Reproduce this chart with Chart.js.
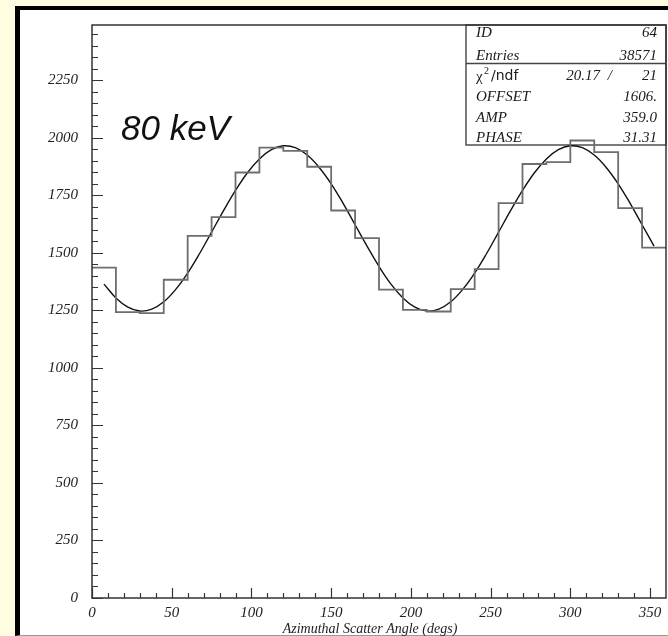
<!DOCTYPE html>
<html>
<head>
<meta charset="utf-8">
<script src="https://cdn.jsdelivr.net/npm/chart.js@4.4.1/dist/chart.umd.min.js"></script>
<style>
    html, body { margin: 0; padding: 0; }
    body { width: 668px; height: 636px; background: #fffde1; position: relative; overflow: hidden; }
    #panel {
        position: absolute; left: 15px; top: 6px; width: 700px; height: 625px;
        background: #fff; border-left: 5px solid #000; border-top: 4px solid #000; border-bottom: 1px solid #999;
    }
    #chart { position: absolute; left: 0; top: 0; }
</style>
</head>
<body>
<div id="panel"></div>
<canvas id="chart" width="668" height="636"></canvas>
<script>
// histogram: 24 bins of 15 degrees
const binEdges = [0, 15, 30, 45, 60, 75, 90, 105, 120, 135, 150, 165, 180,
    195, 210, 225, 240, 255, 270, 285, 300, 315, 330, 345, 360];
const binCounts = [1436, 1242, 1238, 1383, 1574, 1655, 1849, 1957, 1943, 1874, 1684, 1564,
    1340, 1252, 1245, 1342, 1429, 1716, 1886, 1894, 1988, 1938, 1694, 1523];

// fitted curve, read every 7.5 degrees
const fitAngles = [7.5, 15, 22.5, 30, 37.5, 45, 52.5, 60, 67.5, 75, 82.5, 90, 97.5, 105, 112.5, 120,
    127.5, 135, 142.5, 150, 157.5, 165, 172.5, 180, 187.5, 195, 202.5, 210, 217.5, 225, 232.5, 240,
    247.5, 255, 262.5, 270, 277.5, 285, 292.5, 300, 307.5, 315, 322.5, 330, 337.5, 345, 352.5];
const fitValues = [1364, 1304, 1264, 1247, 1255, 1287, 1341, 1412, 1497, 1590, 1683, 1771, 1848, 1908, 1948, 1965,
    1957, 1925, 1871, 1800, 1715, 1622, 1529, 1441, 1364, 1304, 1264, 1247, 1255, 1287, 1341, 1412,
    1497, 1590, 1683, 1771, 1848, 1908, 1948, 1965, 1957, 1925, 1871, 1800, 1715, 1622, 1529];

const xTickValues = [0, 50, 100, 150, 200, 250, 300, 350];
const yTickValues = [0, 250, 500, 750, 1000, 1250, 1500, 1750, 2000, 2250];

const statLabels = ['ID', 'Entries', 'χ2/ndf', 'OFFSET', 'AMP', 'PHASE'];
const statValues = ['64', '38571', '21', '1606.', '359.0', '31.31'];
const chiValue = '20.17';

const energyLabel = '80 keV';
const xTitle = 'Azimuthal Scatter Angle (degs)';

const SERIF = '"Liberation Serif", "Times New Roman", serif';
const SANS = '"Liberation Sans", Arial, sans-serif';

const statsBox = {
    id: 'statsBox',
    beforeDatasetsDraw(chart) {
        const { ctx, chartArea: a } = chart;
        const left = 466, top = a.top, right = a.right, bottom = 145;
        const rowY = [33, 56, 76, 97, 118, 138];
        ctx.save();
        ctx.strokeStyle = '#444';
        ctx.lineWidth = 1.4;
        ctx.strokeRect(left, top, right - left, bottom - top);
        ctx.beginPath();
        ctx.moveTo(left, 63.5);
        ctx.lineTo(right, 63.5);
        ctx.stroke();

        ctx.fillStyle = '#1a1a1a';
        ctx.textBaseline = 'middle';
        statLabels.forEach((lab, i) => {
            ctx.textAlign = 'left';
            if (i === 2) {
                ctx.font = `15px ${SERIF}`;
                ctx.fillText('χ', 476, rowY[i] + 1);
                ctx.font = `10px ${SERIF}`;
                ctx.fillText('2', 484, rowY[i] - 5);
                ctx.font = `14px "DejaVu Sans", sans-serif`;
                ctx.fillText('/ndf', 491, rowY[i]);
                ctx.font = `italic 15px ${SERIF}`;
                ctx.textAlign = 'right';
                ctx.fillText(chiValue, 600, rowY[i]);
                ctx.fillText('/', 612, rowY[i]);
            } else {
                ctx.font = `italic 15px ${SERIF}`;
                ctx.fillText(lab, 476, rowY[i]);
            }
            ctx.font = `italic 15px ${SERIF}`;
            ctx.textAlign = 'right';
            ctx.fillText(statValues[i], 657, rowY[i]);
        });
        ctx.restore();
    }
};

const rootFrame = {
    id: 'rootFrame',
    afterDatasetsDraw(chart) {
        const { ctx, chartArea: a, scales: { x, y } } = chart;
        ctx.save();
        ctx.strokeStyle = '#333';
        ctx.lineWidth = 1.5;
        ctx.strokeRect(a.left, a.top, a.right - a.left, a.bottom - a.top);

        // ROOT style ticks, pointing into the frame
        ctx.lineWidth = 1.2;
        ctx.beginPath();
        for (let v = 0; v <= y.max; v += 50) {
            const py = Math.round(y.getPixelForValue(v)) + 0.5;
            ctx.moveTo(a.left, py);
            ctx.lineTo(a.left + (v % 250 === 0 ? 11 : 6), py);
        }
        for (let v = 0; v <= 350; v += 10) {
            const px = Math.round(x.getPixelForValue(v)) + 0.5;
            ctx.moveTo(px, a.bottom);
            ctx.lineTo(px, a.bottom - (v % 50 === 0 ? 10 : 5));
        }
        ctx.stroke();

        ctx.fillStyle = '#111';
        ctx.textAlign = 'left';
        ctx.textBaseline = 'alphabetic';
        ctx.font = `italic 35px ${SANS}`;
        ctx.fillText(energyLabel, 121, 140);

        ctx.fillStyle = '#222';
        ctx.textAlign = 'center';
        ctx.textBaseline = 'middle';
        ctx.font = `italic 14px ${SERIF}`;
        ctx.fillText(xTitle, 370, 629);
        ctx.restore();
    }
};

const tickFont = { family: SERIF, style: 'italic', size: 15 };

new Chart(document.getElementById('chart'), {
    type: 'line',
    data: {
        datasets: [
            {
                label: 'histogram',
                data: binEdges.map((e, i) => ({ x: e, y: binCounts[Math.min(i, binCounts.length - 1)] })),
                stepped: 'before',
                borderColor: '#6e6e6e',
                borderWidth: 1.8,
                pointRadius: 0,
                fill: false,
            },
            {
                label: 'fit',
                data: fitAngles.map((a, i) => ({ x: a, y: fitValues[i] })),
                borderColor: '#111',
                borderWidth: 1.4,
                pointRadius: 0,
                tension: 0.4,
                fill: false,
            },
        ],
    },
    options: {
        responsive: false,
        animation: false,
        devicePixelRatio: 1,
        layout: { padding: { top: 25, right: 2, left: 0, bottom: 0 } },
        plugins: { legend: { display: false }, tooltip: { enabled: false } },
        scales: {
            x: {
                type: 'linear',
                position: 'bottom',
                min: 0,
                max: 360,
                grid: { display: false, drawTicks: false },
                border: { display: false },
                ticks: {
                    autoSkip: false, maxRotation: 0, padding: 6, font: tickFont, color: '#222',
                    callback: v => String(v),
                },
                afterBuildTicks(s) { s.ticks = xTickValues.map(v => ({ value: v })); },
                afterFit(s) { s.height = 38; },
            },
            y: {
                min: 0,
                max: 2490,
                grid: { display: false, drawTicks: false },
                border: { display: false },
                ticks: {
                    autoSkip: false, padding: 14, font: tickFont, color: '#222',
                    callback: v => String(v),
                },
                afterBuildTicks(s) { s.ticks = yTickValues.map(v => ({ value: v })); },
                afterFit(s) { s.width = 92; },
            },
        },
    },
    plugins: [statsBox, rootFrame],
});
</script>
</body>
</html>
